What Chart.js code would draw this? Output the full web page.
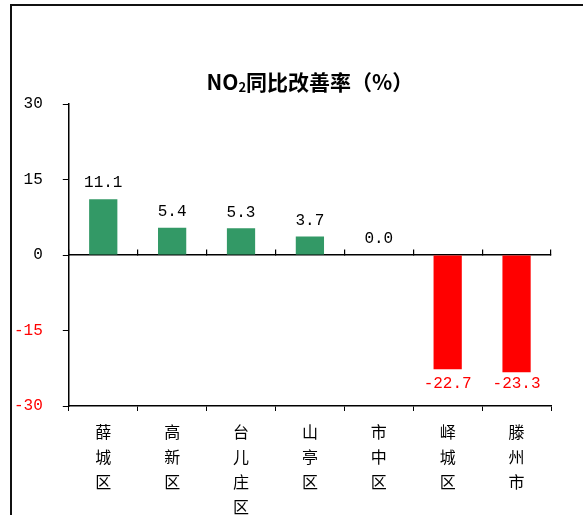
<!DOCTYPE html>
<html>
<head>
<meta charset="utf-8">
<script src="https://cdn.jsdelivr.net/npm/chart.js@4"></script>
<style>
  html, body { margin: 0; padding: 0; overflow: hidden; background: #fff; }
  #wrap { position: relative; width: 583px; height: 515px; overflow: hidden; }
  #frame {
    position: absolute; left: 10px; top: 4px; width: 700px; height: 700px;
    border-left: 2px solid #111; border-top: 2px solid #111;
  }
  canvas { position: absolute; left: 0; top: 0; }
</style>
</head>
<body>
<div id="wrap">
  <div id="frame"></div>
  <canvas id="chart" width="583" height="540"></canvas>
</div>
<script>
// categories and values
const districts = ['薛城区', '高新区', '台儿庄区', '山亭区', '市中区', '峄城区', '滕州市'];
const improveRate = [11.1, 5.4, 5.3, 3.7, 0.0, -22.7, -23.3];
const yTicks = [30, 15, 0, -15, -30];

const GREEN = '#339966';
const RED = '#FF0000';
const NUM_FONT = '"Liberation Mono"';
const CJK_FONT = '"Noto Sans CJK SC"';

// vertical labels: one character per line
const verticalLabels = districts.map(d => d.split(''));

// title with a real subscript 2, centred over the plot area
const subTitle = {
    id: 'subTitle',
    afterDraw(chart) {
        const ctx = chart.ctx;
        const area = chart.chartArea;
        const parts = [
            { t: 'NO', font: 'bold 21px ' + CJK_FONT, dy: 0 },
            { t: '2', font: 'bold 13px ' + CJK_FONT, dy: 5 },
            { t: '同比改善率（%）', font: 'bold 21px ' + CJK_FONT, dy: 0 }
        ];
        ctx.save();
        ctx.fillStyle = '#000';
        ctx.textBaseline = 'middle';
        ctx.textAlign = 'left';
        let total = 0;
        parts.forEach(p => { ctx.font = p.font; p.w = ctx.measureText(p.t).width; total += p.w; });
        let x = (area.left + area.right) / 2 - total / 2;
        const y = area.top - 22;
        parts.forEach(p => {
            ctx.font = p.font;
            ctx.fillText(p.t, x, y + p.dy);
            x += p.w;
        });
        ctx.restore();
    }
};

// value labels above/below bars
const valueLabels = {
    id: 'valueLabels',
    afterDatasetsDraw(chart) {
        const ctx = chart.ctx;
        const meta = chart.getDatasetMeta(0);
        const area = chart.chartArea;
        ctx.save();
        ctx.font = '16px ' + NUM_FONT;
        ctx.textAlign = 'center';
        ctx.textBaseline = 'middle';
        meta.data.forEach((bar, i) => {
            const v = improveRate[i];
            if (v < 0) {
                ctx.fillStyle = RED;
                ctx.fillText(v.toFixed(1), bar.x, Math.min(bar.y + 20, area.bottom - 22));
            } else {
                ctx.fillStyle = '#000';
                ctx.fillText(v.toFixed(1), bar.x, bar.y - 16);
            }
        });
        ctx.restore();
    }
};

const ctx = document.getElementById('chart').getContext('2d');
const chart = new Chart(ctx, {
    type: 'bar',
    data: {
        labels: verticalLabels,
        datasets: [{
            data: improveRate,
            backgroundColor: improveRate.map(v => v < 0 ? RED : GREEN),
            borderWidth: 0,
            categoryPercentage: 1,
            barPercentage: 0.41
        }]
    },
    options: {
        responsive: false,
        animation: false,
        devicePixelRatio: 1,
        layout: {
            padding: { left: -6, right: 32, top: 104, bottom: 13 }
        },
        plugins: {
            legend: { display: false },
            tooltip: { enabled: false },
            title: { display: false }
        },
        scales: {
            x: {
                position: 'bottom',
                grid: { drawOnChartArea: false, tickLength: 5, color: '#000', lineWidth: 1 },
                border: { display: true, color: '#000', width: 1.5 },
                ticks: {
                    color: '#000',
                    padding: 8,
                    maxRotation: 0,
                    autoSkip: false,
                    font: { family: CJK_FONT, size: 16, lineHeight: '25px' }
                }
            },
            xZero: {
                type: 'category',
                labels: verticalLabels,
                position: { y: 0 },
                offset: true,
                grid: { drawOnChartArea: false, tickLength: -6, color: '#000', lineWidth: 1.2 },
                border: { display: true, color: '#000', width: 1.5 },
                ticks: { display: false }
            },
            y: {
                min: -30,
                max: 30,
                afterBuildTicks(scale) {
                    scale.ticks = yTicks.map(v => ({ value: v }));
                },
                grid: { drawOnChartArea: false, tickLength: 6, color: '#000', lineWidth: 1 },
                border: { display: true, color: '#000', width: 1.5 },
                ticks: {
                    padding: 20,
                    color: c => c.tick.value < 0 ? RED : '#000',
                    font: { family: NUM_FONT, size: 16 }
                }
            }
        }
    },
    plugins: [valueLabels, subTitle]
});
</script>
</body>
</html>
